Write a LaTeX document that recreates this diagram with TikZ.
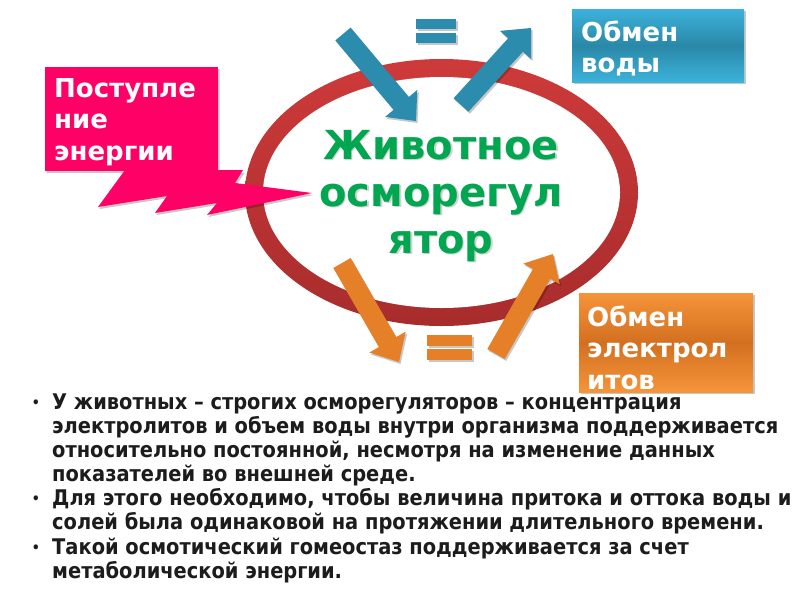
\documentclass[tikz,border=0pt]{standalone}
\usepackage{fontspec}
\setmainfont{DejaVu Sans}
\newfontfamily\condfont{DejaVu Sans Condensed}
\usetikzlibrary{calc}
\definecolor{ringred}{RGB}{206,58,58}
\definecolor{ringdark}{RGB}{168,44,44}
\definecolor{pinkc}{RGB}{255,0,102}
\definecolor{bluetop}{RGB}{60,178,218}
\definecolor{bluemid}{RGB}{42,136,168}
\definecolor{arrowblue}{RGB}{44,140,174}
\definecolor{orangetop}{RGB}{246,148,58}
\definecolor{orangemid}{RGB}{210,112,32}
\definecolor{arroworange}{RGB}{230,128,40}
\definecolor{titlegreen}{RGB}{0,166,80}
\definecolor{bodytext}{RGB}{28,28,28}
\tikzset{
  boxlabel/.style={anchor=north west, inner sep=0pt, align=left, text=white,
    font=\fontsize{26}{31.5}\selectfont\bfseries},
  bodypara/.style={anchor=north west, inner sep=0pt, align=left, text=bodytext,
    font=\condfont\fontsize{21.6}{24}\selectfont\bfseries},
  bulletmark/.style={anchor=center, inner sep=0pt, text=bodytext,
    font=\condfont\fontsize{14}{14}\selectfont\bfseries},
  shadowc/.style={fill=black, opacity=0.22, transform canvas={shift={(1.5pt,-2pt)}}},
  boxshape/.style={anchor=north west, inner sep=0pt, draw=none},
  titletext/.style={anchor=north, inner sep=0pt, align=center,
    font=\fontsize{40}{47}\selectfont\bfseries},
}
\newcommand\fatarrow[3]{%
  \coordinate (fa-h) at ($(#2)!23pt!(#1)$);
  \fill[#3] ($(#1)!10pt!90:(#2)$) -- ($(fa-h)!10pt!-90:(#1)$) -- ($(fa-h)!21pt!-90:(#1)$)
    -- (#2) -- ($(fa-h)!21pt!90:(#1)$) -- ($(fa-h)!10pt!90:(#1)$) -- ($(#1)!10pt!-90:(#2)$) -- cycle;
}
\begin{document}
\begin{tikzpicture}[x=1pt,y=-1pt]
\useasboundingbox (0,0) rectangle (800,600);
\fill[white] (0,0) rectangle (800,600);

% ring
\shade[top color=ringred, bottom color=ringdark] (441.5,192.5) ellipse [x radius=196.5, y radius=133.5];
\fill[white] (441.5,192.5) ellipse [x radius=178.5, y radius=115.5];

% pink box + bolt
\fill[shadowc] (125,171) -- (98,207) -- (167,196) -- (155,213) -- (217,203) -- (207,215) -- (312,193) -- (235,183) -- (243,171) -- (218,171) -- (218,67) -- (45,67) -- (45,171) -- cycle;
\fill[pinkc] (125,170) -- (98,207) -- (167,196) -- (155,213) -- (217,203) -- (207,215) -- (312,193) -- (235,183) -- (243,170) -- cycle;
\node[boxshape, fill=pinkc, minimum width=173, minimum height=104] (energybox) at (45,67) {};
\node[boxlabel] (energytext) at (54,78) {Поступле\\ние\\энергии};

% blue box
\fill[shadowc] (572,9) rectangle (744,82);
\shade[top color=bluetop, bottom color=bluetop, middle color=bluemid] (572,9) rectangle (744,82);
\node[boxshape, minimum width=172, minimum height=73] (waterbox) at (572,9) {};
\node[boxlabel] (watertext) at (581,20.5) {Обмен\\воды};

% orange box
\fill[shadowc] (579,293) rectangle (753,392);
\shade[top color=orangetop, bottom color=orangetop, middle color=orangemid] (579,293) rectangle (753,392);
\node[boxshape, minimum width=174, minimum height=99] (electrobox) at (579,293) {};
\node[boxlabel] (electrotext) at (587,305.5) {Обмен\\электрол\\итов};

% arrows
\coordinate (b1t) at (343,34);  \coordinate (b1h) at (416,121);
\coordinate (b2t) at (461,105); \coordinate (b2h) at (531,28);
\coordinate (o1t) at (342,263); \coordinate (o1h) at (399,362);
\coordinate (o2t) at (496,354); \coordinate (o2h) at (553,254);
\fatarrow{b1t}{b1h}{shadowc}
\fatarrow{b1t}{b1h}{fill=arrowblue}
\fatarrow{b2t}{b2h}{shadowc}
\fatarrow{b2t}{b2h}{fill=arrowblue}
\fatarrow{o1t}{o1h}{shadowc}
\fatarrow{o1t}{o1h}{fill=arroworange}
\fatarrow{o2t}{o2h}{shadowc}
\fatarrow{o2t}{o2h}{fill=arroworange}

% equals signs
\fill[shadowc] (416,19) rectangle (456,29);
\fill[shadowc] (416,33) rectangle (456,43);
\fill[arrowblue] (416,19) rectangle (456,29);
\fill[arrowblue] (416,33) rectangle (456,43);
\fill[shadowc] (427,335) rectangle (472,346);
\fill[shadowc] (427,349) rectangle (472,360);
\fill[arroworange] (427,335) rectangle (472,346);
\fill[arroworange] (427,349) rectangle (472,360);

% title
\node[titletext, text=black, opacity=0.18] (titleshadow) at (442.5,131.5) {Животное\\осморегул\\ятор};
\node[titletext, text=titlegreen] (title) at (441,130.5) {Животное\\осморегул\\ятор};

% body text
\node[bulletmark] (bul1) at (36,404) {•};
\node[bodypara] (para1) at (52,393.5) {У животных – строгих осморегуляторов – концентрация\\электролитов и объем воды внутри организма поддерживается\\относительно постоянной, несмотря на изменение данных\\показателей во внешней среде.};
\node[bulletmark] (bul2) at (36,500) {•};
\node[bodypara] (para2) at (52,488.5) {Для этого необходимо, чтобы величина притока и оттока воды и\\солей была одинаковой на протяжении длительного времени.};
\node[bulletmark] (bul3) at (36,549) {•};
\node[bodypara] (para3) at (52,537.5) {Такой осмотический гомеостаз поддерживается за счет\\метаболической энергии.};
\end{tikzpicture}
\end{document}
